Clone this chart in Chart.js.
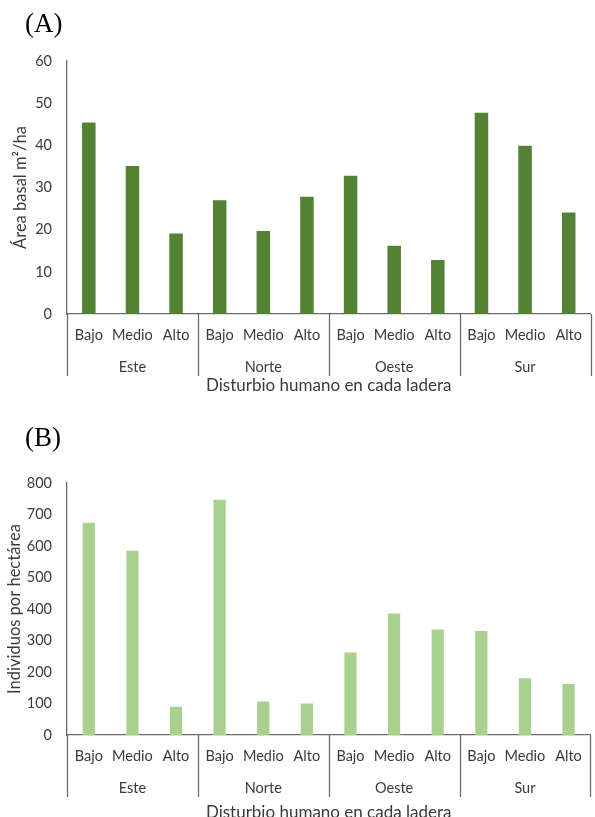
<!DOCTYPE html>
<html>
<head>
<meta charset="utf-8">
<script src="https://cdn.jsdelivr.net/npm/chart.js@4.4.1/dist/chart.umd.min.js"></script>
<style>
  body { margin: 0; background: #fff; width: 595px; height: 817px; position: relative; overflow: hidden; }
  .panel { position: absolute; left: 0; }
  .tag { position: absolute; left: 25px; font-family: "Liberation Serif", "Times New Roman", serif; font-size: 27px; color: #000; line-height: 1; }
</style>
</head>
<body>
<div class="panel" style="top:0"><canvas id="chartA" width="595" height="400"></canvas></div>
<div class="panel" style="top:400px"><canvas id="chartB" width="595" height="417"></canvas></div>
<div class="tag" style="top:10px">(A)</div>
<div class="tag" style="top:424px">(B)</div>
<script>
// categories
const laderas = ["Este", "Norte", "Oeste", "Sur"];
const disturbio = ["Bajo", "Medio", "Alto"];

// values (Este, Norte, Oeste, Sur x Bajo, Medio, Alto)
const areaBasal = [45.4, 35.1, 19.1, 27.0, 19.7, 27.8, 32.8, 16.2, 12.8, 47.7, 39.9, 24.1];
const individuos = [674, 585, 90, 747, 106, 100, 262, 386, 335, 330, 180, 162];

const xTitle = "Disturbio humano en cada ladera";
const fontName = "Lato, 'Open Sans', sans-serif";
const textColor = "#3a3a3a";
const lineColor = "#6b6b6b";

var labels = [];
laderas.forEach(function () {
    disturbio.forEach(function (d) { labels.push(d); });
});

// group labels, separators and the x title under the axis
const groupPlugin = {
    id: "groups",
    afterDraw: function (chart, args, opts) {
        var ctx = chart.ctx;
        var xs = chart.scales.x;
        var area = chart.chartArea;
        var half = (xs.getPixelForValue(1) - xs.getPixelForValue(0)) / 2;
        ctx.save();
        ctx.strokeStyle = lineColor;
        ctx.lineWidth = 1.3;
        for (var k = 0; k <= laderas.length; k++) {
            var x = k < laderas.length ? xs.getPixelForValue(k * 3) - half : xs.getPixelForValue(k * 3 - 1) + half;
            x = Math.round(x) + 0.5;
            ctx.beginPath();
            ctx.moveTo(x, area.bottom);
            ctx.lineTo(x, opts.sepBottom);
            ctx.stroke();
        }
        ctx.fillStyle = textColor;
        ctx.font = "14.5px " + fontName;
        ctx.textAlign = "center";
        ctx.textBaseline = "middle";
        laderas.forEach(function (l, k) {
            ctx.fillText(l, xs.getPixelForValue(k * 3 + 1), opts.groupY);
        });
        ctx.font = "17px " + fontName;
        ctx.fillText(xTitle, (area.left + area.right) / 2, opts.titleY);
        ctx.restore();
    }
};

function makeChart(id, values, color, yMax, yStep, yTitle, g) {
    return new Chart(id, {
        type: "bar",
        data: {
            labels: labels,
            datasets: [{
                data: values,
                backgroundColor: color,
                borderWidth: 0,
                barPercentage: g.barPct,
                categoryPercentage: 1
            }]
        },
        options: {
            responsive: false,
            animation: false,
            events: [],
            layout: { padding: { top: g.top, right: g.right, left: 0, bottom: 0 } },
            plugins: {
                legend: { display: false },
                tooltip: { enabled: false },
                groups: g
            },
            scales: {
                x: {
                    grid: { display: false, drawTicks: false },
                    border: { display: true, color: lineColor, width: 1.3 },
                    ticks: { color: textColor, font: { family: fontName, size: 14.5 }, padding: 13, maxRotation: 0, autoSkip: false },
                    afterFit: function (s) { s.height = g.axisH; }
                },
                y: {
                    min: 0,
                    max: yMax,
                    grid: { display: false, drawTicks: false },
                    border: { display: true, color: lineColor, width: 1.3 },
                    ticks: { stepSize: yStep, color: textColor, font: { family: fontName, size: 14.5 }, padding: 15 },
                    title: { display: true, text: yTitle, color: textColor, font: { family: fontName, size: 16.5 }, padding: { top: g.titlePad, bottom: 0 } },
                    afterFit: function (s) { s.width = 67; }
                }
            }
        },
        plugins: [groupPlugin]
    });
}

makeChart("chartA", areaBasal, "#548235", 60, 10, "Área basal m²/ha",
    { top: 61, right: 0, axisH: 86, barPct: 0.31, sepBottom: 376, groupY: 367, titleY: 386, titlePad: 11 });
makeChart("chartB", individuos, "#a9d18e", 800, 100, "Individuos por hectárea",
    { top: 83, right: 4, axisH: 82, barPct: 0.28, sepBottom: 397, groupY: 388, titleY: 413, titlePad: 5 });
</script>
</body>
</html>
